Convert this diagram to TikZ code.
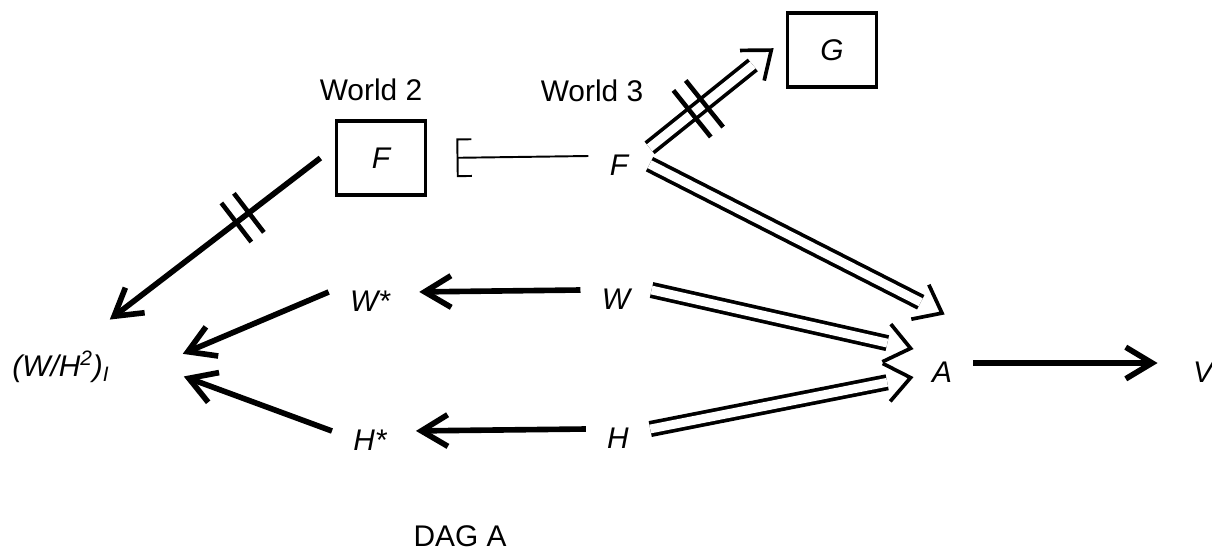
\documentclass[tikz,border=0pt]{standalone}
\usepackage{fontspec}
\setmainfont{Liberation Sans}
\usetikzlibrary{arrows.meta,decorations.markings}
\tikzset{
	var/.style={font=\fontsize{17}{20}\selectfont\itshape, inner xsep=12pt, inner ysep=2pt, text height=22.4pt, text depth=0pt},
	box/.style={draw, line width=1.9pt, minimum width=51pt, minimum height=42pt, outer sep=9pt, font=\fontsize{17}{20}\selectfont\itshape},
	txt/.style={font=\fontsize{17}{20}\selectfont},
	arr/.style={line width=3.2pt, -{Straight Barb[sharp, length=15pt, width=18pt]}},
	brk/.style={line width=1.1pt, -{Bracket[width=22pt, length=8pt]}},
	dblarr/.style={double, line width=2.1pt, double distance=5pt, shorten >=13.6pt,
		postaction={decorate, decoration={markings, mark=at position 1 with {\draw[line width=2.1pt, shorten >=0pt, shorten <=0pt] (-14pt,11pt) -- (0pt,0pt) -- (-14pt,-11pt);}}}},
	cut/.style 2 args={postaction={decorate, decoration={markings, mark=at position #1 with {\draw[-, line width=2.6pt, shorten >=0pt, shorten <=0pt] (-4.5pt,-#2) -- (-4.5pt,#2) (4.5pt,-#2) -- (4.5pt,#2);}}}}
}

\begin{document}
\begin{tikzpicture}[x=0.02cm, y=-0.02cm]
			%%%%% START %%%%%
			\useasboundingbox (0, 0) rectangle (1212, 552);
			
			\node[box] (F2) at (381, 158) {F};
			\node[box] (G) at (832, 50) {G};
			\node[txt] (w2) at (371, 90) {World 2};
			\node[txt] (w3) at (592, 91) {World 3};
			
			\node[var] (WH) at (61, 357) {(W/H\textsuperscript{2})\textsubscript{I}};
			\node[var] (Wst) at (370, 292) {W*};
			\node[var] (Hst) at (370, 431) {H*};
			\node[var] (F3) at (619, 156) {F};
			\node[var] (W) at (616, 290) {W};
			\node[var] (H) at (618, 429) {H};
			\node[var, inner ysep=17pt] (A) at (942, 363) {A};
			\node[var] (V) at (1203, 363) {V};
			
			\draw[arr, shorten >=13pt, cut={0.34}{14pt}] (F2.west) -- (WH);
			\draw[arr, shorten >=32pt] (Wst.west) -- (WH.-15);
			\draw[arr, shorten >=32pt] (Hst.west) -- (WH.east);
			\draw[arr, shorten >=4.5pt] (W.west) -- (Wst.east);
			\draw[arr, shorten >=4.5pt] (H.west) -- (Hst.east);
			\draw[arr, shorten >=8pt] (A.east) -- (V.west);
			
			\draw[brk, shorten >=8.5pt] (F3.west) -- (F2.east);
			
			\draw[dblarr, cut={0.4}{17pt}] (F3.15) -- (G.west);
			\draw[dblarr] (F3.-15) -- (A.north);
			\draw[dblarr] (W.east) -- (A.155);
			\draw[dblarr] (H.east) -- (A.205);
			
			\node[txt] (dag) at (460, 536) {DAG A};
			%%%%% END %%%%%
\end{tikzpicture}
\end{document}
